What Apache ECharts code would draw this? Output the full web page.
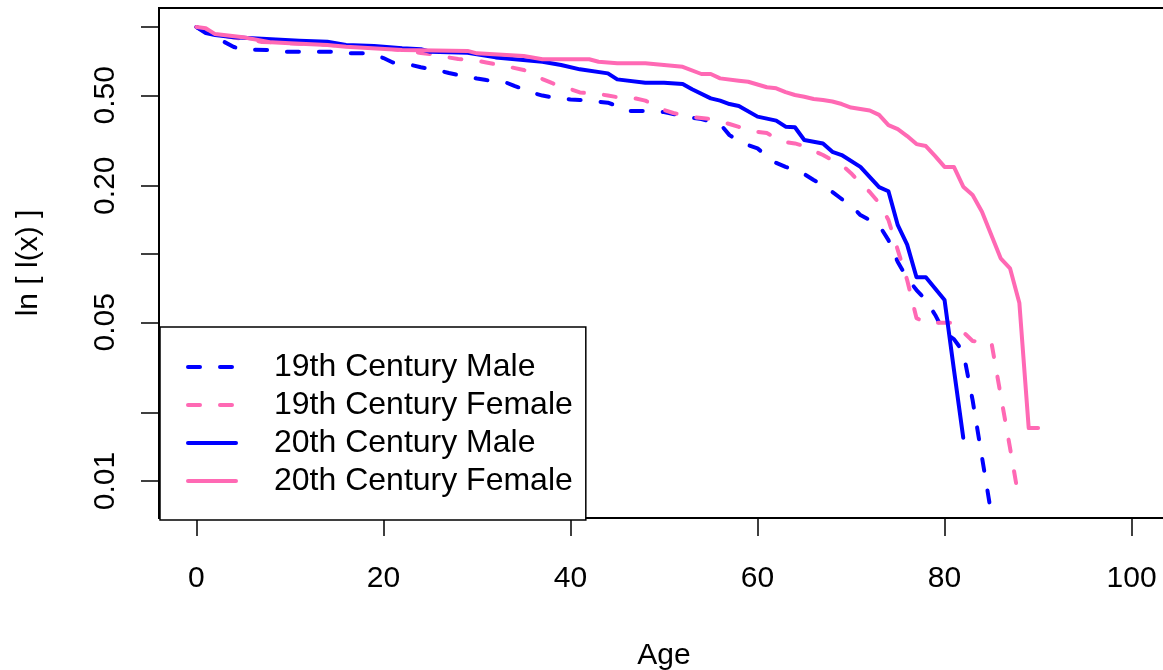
<!DOCTYPE html>
<html>
<head>
<meta charset="utf-8">
<script src="https://cdn.jsdelivr.net/npm/echarts@6/dist/echarts.min.js"></script>
<style>html,body{margin:0;padding:0;background:#fff;}#c{width:1163px;height:670px;}</style>
</head>
<body>
<div id="c"></div>
<script>
// ---- data (l(x) survivorship by age) ----
const seriesNames = ['19th Century Male', '19th Century Female', '20th Century Male', '20th Century Female'];

const m19Ages = [0,1,2,3,4,5,8,9,15,16,18,19,20,21,23,24,26,27,28,30,31,33,34,35,36,37,38,40,41,43,44,45,46,49,50,51,52,54,56,57,58,59,60,61,62,63,64,65,66,67,68,69,70,71,72,73,74,75,76,77,78,79,80,81,82,83,84,85];
const m19Vals = [1.0,0.951,0.904,0.859,0.817,0.796,0.792,0.778,0.778,0.766,0.766,0.753,0.730,0.698,0.680,0.665,0.643,0.627,0.615,0.593,0.584,0.572,0.550,0.533,0.512,0.499,0.491,0.479,0.477,0.469,0.464,0.449,0.427,0.427,0.422,0.414,0.405,0.393,0.374,0.334,0.315,0.302,0.292,0.270,0.252,0.242,0.2345,0.225,0.212,0.201,0.1876,0.1747,0.164,0.1485,0.1412,0.134,0.1152,0.0922,0.0784,0.0694,0.0627,0.0539,0.0449,0.0422,0.0370,0.0227,0.01275,0.00715];

const f19Ages = [0,1,2,4,7,11,14,20,22,24,25,27,28,30,31,33,35,36,37,38,39,40,41,43,44,45,47,48,49,50,51,52,53,54,55,56,57,58,59,60,61,62,63,64,65,66,67,68,69,70,71,72,73,74,75,76,77,78,81,82,83,84,85,86,87,88];
const f19Vals = [1.0,0.97,0.93,0.90,0.86,0.845,0.835,0.81,0.79,0.768,0.760,0.734,0.723,0.710,0.698,0.673,0.647,0.621,0.590,0.567,0.547,0.533,0.515,0.507,0.499,0.491,0.484,0.474,0.453,0.431,0.418,0.410,0.401,0.397,0.393,0.383,0.374,0.363,0.352,0.345,0.341,0.324,0.311,0.307,0.299,0.285,0.273,0.259,0.247,0.227,0.2055,0.1876,0.1678,0.1412,0.1041,0.0768,0.0522,0.0498,0.0498,0.0453,0.0414,0.0410,0.0410,0.0239,0.0140,0.00808];

const m20Ages = [0,1,2,4,7,11,14,16,19,22,24,25,29,32,37,39,41,44,45,48,50,52,53,55,56,57,58,60,62,63,64,65,67,68,69,71,73,74,75,76,77,78,80,81,82];
const m20Vals = [1.0,0.94,0.922,0.901,0.888,0.870,0.861,0.833,0.825,0.806,0.798,0.778,0.770,0.735,0.703,0.680,0.651,0.625,0.588,0.568,0.568,0.561,0.532,0.485,0.474,0.458,0.449,0.403,0.387,0.364,0.362,0.318,0.307,0.282,0.273,0.242,0.197,0.189,0.134,0.110,0.079,0.079,0.0627,0.031,0.0155];

const f20Ages = [0,1,2,5,8,10,14,16,22,29,30,35,37,42,43,45,48,50,52,54,55,56,58,59,61,62,63,64,65,66,67,68,69,70,71,72,73,74,75,76,77,78,79,80,81,82,83,84,85,86,87,88,89,90];
const f20Vals = [1.0,0.987,0.931,0.901,0.856,0.848,0.833,0.819,0.792,0.785,0.766,0.745,0.721,0.721,0.703,0.692,0.692,0.680,0.668,0.621,0.621,0.594,0.580,0.574,0.543,0.537,0.517,0.502,0.493,0.482,0.477,0.470,0.458,0.442,0.435,0.429,0.410,0.370,0.355,0.331,0.305,0.299,0.270,0.242,0.242,0.198,0.182,0.1536,0.1213,0.0957,0.0865,0.0608,0.0171,0.0171];

const xTicks = [0, 20, 40, 60, 80, 100];
const yTicks = [1, 0.5, 0.2, 0.1, 0.05, 0.02, 0.01];
const yLabels = [0.5, 0.2, 0.05, 0.01];

// ---- chart ----
const FONT = 'Liberation Sans, Arial, Helvetica, sans-serif';
const BLUE = '#0000FF', PINK = '#FF69B4';
const colors = [BLUE, PINK, BLUE, PINK];
const dashed = [true, true, false, false];
const DASH = [12, 20];
function pairs(a, v) { return a.map((x, i) => [x, v[i]]); }
function lstyle(i) {
  return { color: colors[i], width: 4, type: dashed[i] ? DASH : 'solid', cap: 'round', join: 'round' };
}

const chart = echarts.init(document.getElementById('c'), null, { renderer: 'canvas' });
function mk(i, ages, vals) {
  return {
    name: seriesNames[i], type: 'line', data: pairs(ages, vals),
    symbol: 'none', showSymbol: false, animation: false,
    lineStyle: lstyle(i),
    itemStyle: { color: colors[i] }
  };
}
chart.setOption({
  backgroundColor: '#fff',
  animation: false,
  grid: { left: 159, top: 8, right: -6, bottom: 152, show: true, borderColor: '#000', borderWidth: 2, backgroundColor: 'transparent', outerBoundsMode: 'none' },
  xAxis: {
    type: 'value', min: -4, max: 104,
    name: 'Age', nameLocation: 'middle', nameGap: 123,
    nameTextStyle: { fontFamily: FONT, fontSize: 30, color: '#000', lineHeight: 30 },
    axisLine: { show: false, onZero: false },
    splitLine: { show: false },
    axisTick: { show: true, inside: false, length: 18, customValues: xTicks, lineStyle: { color: '#000', width: 1.5 } },
    axisLabel: { customValues: xTicks, margin: 46, fontFamily: FONT, fontSize: 30, color: '#000', lineHeight: 30 }
  },
  yAxis: {
    type: 'log', logBase: 10, min: 0.006871, max: 1.213,
    name: 'ln [ l(x) ]', nameLocation: 'middle', nameGap: 115, nameRotate: 90,
    nameTextStyle: { fontFamily: FONT, fontSize: 30, color: '#000', lineHeight: 30 },
    axisLine: { show: false, onZero: false },
    splitLine: { show: false },
    minorTick: { show: false },
    axisTick: { show: true, inside: false, length: 18, customValues: yTicks, lineStyle: { color: '#000', width: 1.5 } },
    axisLabel: { customValues: yLabels, rotate: 90, margin: 38, fontFamily: FONT, fontSize: 30, color: '#000', lineHeight: 30,
      formatter: v => Number(v).toFixed(2) }
  },
  legend: {
    orient: 'vertical', left: 160, top: 327,
    itemWidth: 48, itemHeight: 30, itemGap: 6,
    padding: [24, 13, 23, 26],
    borderColor: '#000', borderWidth: 1.5, backgroundColor: '#fff',
    itemStyle: { opacity: 0, borderWidth: 0 },
    textStyle: { fontFamily: FONT, fontSize: 32, lineHeight: 30, color: '#000', padding: [0, 0, 0, 33] },
    data: seriesNames.map((n, i) => ({ name: n, lineStyle: lstyle(i), itemStyle: { opacity: 0, borderWidth: 0 } }))
  },
  series: [
    mk(0, m19Ages, m19Vals),
    mk(1, f19Ages, f19Vals),
    mk(2, m20Ages, m20Vals),
    mk(3, f20Ages, f20Vals)
  ]
});
</script>
</body>
</html>
